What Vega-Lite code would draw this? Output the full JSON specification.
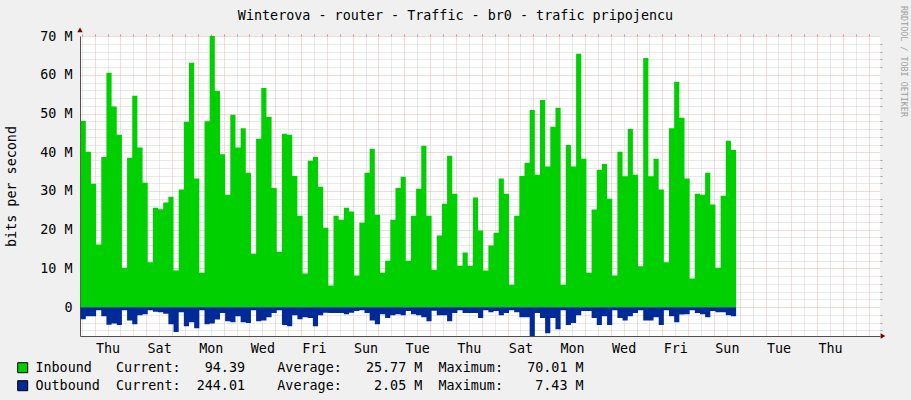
{
  "$schema": "https://vega.github.io/schema/vega-lite/v6.json",
  "width": 800,
  "height": 300,
  "autosize": {"type": "none"},
  "padding": {"left": 80, "top": 36, "right": 31, "bottom": 64},
  "background": "#F0F0F0",
  "config": {
    "view": {"fill": "#FFFFFF", "stroke": null},
    "font": "DejaVu Sans Mono",
    "axis": {"labelFont": "DejaVu Sans Mono", "labelFontSize": 13.4, "labelColor": "#000000", "titleFont": "DejaVu Sans Mono", "titleFontWeight": "normal", "titleColor": "#000000", "titleFontSize": 13.4},
    "legend": {"orient": "none", "legendX": -64, "legendY": 325, "direction": "vertical", "symbolType": "square", "symbolSize": 100, "symbolStrokeColor": "#000000", "symbolStrokeWidth": 1, "symbolOpacity": 1, "labelFont": "DejaVu Sans Mono", "labelFontSize": 13.4, "labelColor": "#000000", "labelLimit": 0, "labelOffset": 6, "padding": 0, "rowPadding": 3}
  },
  "title": {"text": "Winterova - router - Traffic - br0 - trafic pripojencu", "font": "DejaVu Sans Mono", "fontSize": 13.4, "fontWeight": "normal", "color": "#000000", "anchor": "middle", "dx": -24.5, "dy": 20.5},
  "data": {"values": [
    {"t": "2010-03-03T11:00:00Z", "inbound": 48.1, "outbound": -3.1},
    {"t": "2010-03-03T15:48:00Z", "inbound": 40.1, "outbound": -2.3},
    {"t": "2010-03-03T20:36:00Z", "inbound": 31.9, "outbound": -2.3},
    {"t": "2010-03-04T01:24:00Z", "inbound": 16.2, "outbound": -0.8},
    {"t": "2010-03-04T06:12:00Z", "inbound": 38.8, "outbound": -2.3},
    {"t": "2010-03-04T11:00:00Z", "inbound": 60.5, "outbound": -4.5},
    {"t": "2010-03-04T15:48:00Z", "inbound": 51.8, "outbound": -4.2},
    {"t": "2010-03-04T20:36:00Z", "inbound": 44.5, "outbound": -4.6},
    {"t": "2010-03-05T01:24:00Z", "inbound": 10.2, "outbound": -0.8},
    {"t": "2010-03-05T06:12:00Z", "inbound": 38.6, "outbound": -3.4},
    {"t": "2010-03-05T11:00:00Z", "inbound": 54.6, "outbound": -4.4},
    {"t": "2010-03-05T15:48:00Z", "inbound": 41.2, "outbound": -2.1},
    {"t": "2010-03-05T20:36:00Z", "inbound": 32.1, "outbound": -1.8},
    {"t": "2010-03-06T01:24:00Z", "inbound": 11.6, "outbound": -0.8},
    {"t": "2010-03-06T06:12:00Z", "inbound": 25.7, "outbound": -1.2},
    {"t": "2010-03-06T11:00:00Z", "inbound": 25.3, "outbound": -1.3},
    {"t": "2010-03-06T15:48:00Z", "inbound": 27.0, "outbound": -1.7},
    {"t": "2010-03-06T20:36:00Z", "inbound": 28.5, "outbound": -4.4},
    {"t": "2010-03-07T01:24:00Z", "inbound": 9.5, "outbound": -6.4},
    {"t": "2010-03-07T06:12:00Z", "inbound": 30.4, "outbound": -1.3},
    {"t": "2010-03-07T11:00:00Z", "inbound": 47.9, "outbound": -4.9},
    {"t": "2010-03-07T15:48:00Z", "inbound": 63.1, "outbound": -3.9},
    {"t": "2010-03-07T20:36:00Z", "inbound": 33.2, "outbound": -5.4},
    {"t": "2010-03-08T01:24:00Z", "inbound": 8.9, "outbound": -0.8},
    {"t": "2010-03-08T06:12:00Z", "inbound": 48.0, "outbound": -4.4},
    {"t": "2010-03-08T11:00:00Z", "inbound": 70.01, "outbound": -4.2},
    {"t": "2010-03-08T15:48:00Z", "inbound": 55.8, "outbound": -3.2},
    {"t": "2010-03-08T20:36:00Z", "inbound": 39.5, "outbound": -1.5},
    {"t": "2010-03-09T01:24:00Z", "inbound": 29.0, "outbound": -3.6},
    {"t": "2010-03-09T06:12:00Z", "inbound": 49.7, "outbound": -3.9},
    {"t": "2010-03-09T11:00:00Z", "inbound": 41.2, "outbound": -2.3},
    {"t": "2010-03-09T15:48:00Z", "inbound": 46.2, "outbound": -3.9},
    {"t": "2010-03-09T20:36:00Z", "inbound": 34.7, "outbound": -4.1},
    {"t": "2010-03-10T01:24:00Z", "inbound": 13.8, "outbound": -0.8},
    {"t": "2010-03-10T06:12:00Z", "inbound": 43.5, "outbound": -3.6},
    {"t": "2010-03-10T11:00:00Z", "inbound": 56.6, "outbound": -3.4},
    {"t": "2010-03-10T15:48:00Z", "inbound": 49.1, "outbound": -2.6},
    {"t": "2010-03-10T20:36:00Z", "inbound": 30.8, "outbound": -1.5},
    {"t": "2010-03-11T01:24:00Z", "inbound": 14.3, "outbound": -0.8},
    {"t": "2010-03-11T06:12:00Z", "inbound": 44.8, "outbound": -4.6},
    {"t": "2010-03-11T11:00:00Z", "inbound": 44.5, "outbound": -4.9},
    {"t": "2010-03-11T15:48:00Z", "inbound": 33.9, "outbound": -2.1},
    {"t": "2010-03-11T20:36:00Z", "inbound": 23.6, "outbound": -3.1},
    {"t": "2010-03-12T01:24:00Z", "inbound": 8.7, "outbound": -2.6},
    {"t": "2010-03-12T06:12:00Z", "inbound": 37.8, "outbound": -2.8},
    {"t": "2010-03-12T11:00:00Z", "inbound": 38.8, "outbound": -4.9},
    {"t": "2010-03-12T15:48:00Z", "inbound": 31.1, "outbound": -2.1},
    {"t": "2010-03-12T20:36:00Z", "inbound": 20.5, "outbound": -1.4},
    {"t": "2010-03-13T01:24:00Z", "inbound": 5.6, "outbound": -1.5},
    {"t": "2010-03-13T06:12:00Z", "inbound": 23.6, "outbound": -1.5},
    {"t": "2010-03-13T11:00:00Z", "inbound": 22.6, "outbound": -1.5},
    {"t": "2010-03-13T15:48:00Z", "inbound": 25.7, "outbound": -1.8},
    {"t": "2010-03-13T20:36:00Z", "inbound": 24.7, "outbound": -1.4},
    {"t": "2010-03-14T01:24:00Z", "inbound": 8.2, "outbound": -1.0},
    {"t": "2010-03-14T06:12:00Z", "inbound": 21.8, "outbound": -0.8},
    {"t": "2010-03-14T11:00:00Z", "inbound": 34.7, "outbound": -1.5},
    {"t": "2010-03-14T15:48:00Z", "inbound": 40.9, "outbound": -3.4},
    {"t": "2010-03-14T20:36:00Z", "inbound": 23.9, "outbound": -4.4},
    {"t": "2010-03-15T01:24:00Z", "inbound": 8.9, "outbound": -1.8},
    {"t": "2010-03-15T06:12:00Z", "inbound": 12.0, "outbound": -2.8},
    {"t": "2010-03-15T11:00:00Z", "inbound": 22.6, "outbound": -2.1},
    {"t": "2010-03-15T15:48:00Z", "inbound": 30.8, "outbound": -1.8},
    {"t": "2010-03-15T20:36:00Z", "inbound": 33.7, "outbound": -2.1},
    {"t": "2010-03-16T01:24:00Z", "inbound": 12.0, "outbound": -1.0},
    {"t": "2010-03-16T06:12:00Z", "inbound": 23.6, "outbound": -1.8},
    {"t": "2010-03-16T11:00:00Z", "inbound": 30.6, "outbound": -2.1},
    {"t": "2010-03-16T15:48:00Z", "inbound": 41.7, "outbound": -2.6},
    {"t": "2010-03-16T20:36:00Z", "inbound": 23.6, "outbound": -3.6},
    {"t": "2010-03-17T01:24:00Z", "inbound": 9.7, "outbound": -0.9},
    {"t": "2010-03-17T06:12:00Z", "inbound": 18.5, "outbound": -2.1},
    {"t": "2010-03-17T11:00:00Z", "inbound": 26.7, "outbound": -2.1},
    {"t": "2010-03-17T15:48:00Z", "inbound": 39.1, "outbound": -3.6},
    {"t": "2010-03-17T20:36:00Z", "inbound": 29.3, "outbound": -1.5},
    {"t": "2010-03-18T01:24:00Z", "inbound": 10.7, "outbound": -0.8},
    {"t": "2010-03-18T06:12:00Z", "inbound": 14.1, "outbound": -1.5},
    {"t": "2010-03-18T11:00:00Z", "inbound": 10.7, "outbound": -1.5},
    {"t": "2010-03-18T15:48:00Z", "inbound": 28.3, "outbound": -1.5},
    {"t": "2010-03-18T20:36:00Z", "inbound": 19.8, "outbound": -2.8},
    {"t": "2010-03-19T01:24:00Z", "inbound": 9.5, "outbound": -0.8},
    {"t": "2010-03-19T06:12:00Z", "inbound": 15.9, "outbound": -1.3},
    {"t": "2010-03-19T11:00:00Z", "inbound": 19.2, "outbound": -1.0},
    {"t": "2010-03-19T15:48:00Z", "inbound": 33.2, "outbound": -2.1},
    {"t": "2010-03-19T20:36:00Z", "inbound": 29.3, "outbound": -1.5},
    {"t": "2010-03-20T01:24:00Z", "inbound": 5.8, "outbound": -0.8},
    {"t": "2010-03-20T06:12:00Z", "inbound": 23.6, "outbound": -1.3},
    {"t": "2010-03-20T11:00:00Z", "inbound": 33.9, "outbound": -2.6},
    {"t": "2010-03-20T15:48:00Z", "inbound": 37.3, "outbound": -2.6},
    {"t": "2010-03-20T20:36:00Z", "inbound": 50.9, "outbound": -7.43},
    {"t": "2010-03-21T01:24:00Z", "inbound": 34.2, "outbound": -1.5},
    {"t": "2010-03-21T06:12:00Z", "inbound": 53.5, "outbound": -2.8},
    {"t": "2010-03-21T11:00:00Z", "inbound": 36.3, "outbound": -6.7},
    {"t": "2010-03-21T15:48:00Z", "inbound": 46.6, "outbound": -2.8},
    {"t": "2010-03-21T20:36:00Z", "inbound": 51.5, "outbound": -5.7},
    {"t": "2010-03-22T01:24:00Z", "inbound": 5.8, "outbound": -0.8},
    {"t": "2010-03-22T06:12:00Z", "inbound": 41.9, "outbound": -4.6},
    {"t": "2010-03-22T11:00:00Z", "inbound": 36.3, "outbound": -4.1},
    {"t": "2010-03-22T15:48:00Z", "inbound": 65.4, "outbound": -2.1},
    {"t": "2010-03-22T20:36:00Z", "inbound": 38.3, "outbound": -1.0},
    {"t": "2010-03-23T01:24:00Z", "inbound": 8.9, "outbound": -1.0},
    {"t": "2010-03-23T06:12:00Z", "inbound": 25.2, "outbound": -2.8},
    {"t": "2010-03-23T11:00:00Z", "inbound": 35.5, "outbound": -4.6},
    {"t": "2010-03-23T15:48:00Z", "inbound": 37.0, "outbound": -2.3},
    {"t": "2010-03-23T20:36:00Z", "inbound": 28.0, "outbound": -4.6},
    {"t": "2010-03-24T01:24:00Z", "inbound": 8.2, "outbound": -0.8},
    {"t": "2010-03-24T06:12:00Z", "inbound": 40.1, "outbound": -2.8},
    {"t": "2010-03-24T11:00:00Z", "inbound": 33.8, "outbound": -3.4},
    {"t": "2010-03-24T15:48:00Z", "inbound": 46.0, "outbound": -2.3},
    {"t": "2010-03-24T20:36:00Z", "inbound": 34.2, "outbound": -1.5},
    {"t": "2010-03-25T01:24:00Z", "inbound": 10.6, "outbound": -0.8},
    {"t": "2010-03-25T06:12:00Z", "inbound": 64.3, "outbound": -3.4},
    {"t": "2010-03-25T11:00:00Z", "inbound": 33.8, "outbound": -3.4},
    {"t": "2010-03-25T15:48:00Z", "inbound": 38.3, "outbound": -2.6},
    {"t": "2010-03-25T20:36:00Z", "inbound": 30.4, "outbound": -4.6},
    {"t": "2010-03-26T01:24:00Z", "inbound": 11.6, "outbound": -0.8},
    {"t": "2010-03-26T06:12:00Z", "inbound": 46.2, "outbound": -2.3},
    {"t": "2010-03-26T11:00:00Z", "inbound": 58.2, "outbound": -3.9},
    {"t": "2010-03-26T15:48:00Z", "inbound": 48.9, "outbound": -1.9},
    {"t": "2010-03-26T20:36:00Z", "inbound": 33.2, "outbound": -1.8},
    {"t": "2010-03-27T01:24:00Z", "inbound": 7.4, "outbound": -0.8},
    {"t": "2010-03-27T06:12:00Z", "inbound": 29.3, "outbound": -1.5},
    {"t": "2010-03-27T11:00:00Z", "inbound": 29.0, "outbound": -1.8},
    {"t": "2010-03-27T15:48:00Z", "inbound": 34.7, "outbound": -2.6},
    {"t": "2010-03-27T20:36:00Z", "inbound": 26.5, "outbound": -1.0},
    {"t": "2010-03-28T01:24:00Z", "inbound": 10.2, "outbound": -1.3},
    {"t": "2010-03-28T06:12:00Z", "inbound": 28.8, "outbound": -1.3},
    {"t": "2010-03-28T11:00:00Z", "inbound": 43.0, "outbound": -2.1},
    {"t": "2010-03-28T15:48:00Z", "inbound": 40.6, "outbound": -2.3},
    {"t": "2010-03-28T20:36:00Z", "inbound": 40.6, "outbound": -2.3}
  ]},
  "layer": [
    {
      "mark": {"type": "area", "interpolate": "step-after", "opacity": 1},
      "encoding": {
        "x": {"field": "t", "type": "temporal",
          "scale": {"type": "utc", "domain": [1267611900000, 1270290300000], "nice": false},
          "axis": {"title": null, "values": [1267704000000, 1267876800000, 1268049600000, 1268222400000, 1268395200000, 1268568000000, 1268740800000, 1268913600000, 1269086400000, 1269259200000, 1269432000000, 1269604800000, 1269777600000, 1269950400000, 1270123200000],
            "labelExpr": "utcFormat(datum.value, '%a')", "grid": false, "ticks": false, "tickSize": 0, "labelPadding": 5, "domain": true, "domainColor": "#505050", "labelFlush": false, "labelOverlap": false, "labelAngle": 0}},
        "y": {"field": "inbound", "type": "quantitative",
          "scale": {"domain": [-7.43, 70.01], "nice": false, "zero": false},
          "axis": {"values": [0, 10, 20, 30, 40, 50, 60, 70], "labelExpr": "datum.value == 0 ? '0\u00a0\u00a0' : datum.value + '\u00a0M'",
            "grid": true, "gridColor": "#EBB4B4", "gridDash": [1, 1], "ticks": false, "tickSize": 0, "labelPadding": 8, "labelBaseline": "middle",
            "domain": true, "domainColor": "#505050", "title": "bits per second", "titleX": -69, "titleY": 150, "titleAngle": -90, "titleAlign": "center", "titleBaseline": "middle"}},
        "y2": {"datum": 0},
        "color": {"datum": "Inbound", "type": "nominal",
          "scale": {"domain": ["Inbound", "Outbound"], "range": ["#00CF00", "#002A97"]},
          "legend": {"title": null, "labelExpr": "datum.label == 'Inbound' ? 'Inbound\u00a0\u00a0\u00a0Current:\u00a0\u00a0\u00a094.39\u00a0\u00a0\u00a0\u00a0Average:\u00a0\u00a0\u00a025.77\u00a0M\u00a0\u00a0Maximum:\u00a0\u00a0\u00a070.01\u00a0M' : 'Outbound\u00a0\u00a0Current:\u00a0\u00a0244.01\u00a0\u00a0\u00a0\u00a0Average:\u00a0\u00a0\u00a0\u00a02.05\u00a0M\u00a0\u00a0Maximum:\u00a0\u00a0\u00a0\u00a07.43\u00a0M'"}}
      }
    },
    {
      "mark": {"type": "area", "interpolate": "step-after", "opacity": 1},
      "encoding": {
        "x": {"field": "t", "type": "temporal",
          "scale": {"type": "utc", "domain": [1267611900000, 1270290300000], "nice": false},
          "axis": {"title": null, "values": [1267617600000, 1267704000000, 1267790400000, 1267876800000, 1267963200000, 1268049600000, 1268136000000, 1268222400000, 1268308800000, 1268395200000, 1268481600000, 1268568000000, 1268654400000, 1268740800000, 1268827200000, 1268913600000, 1269000000000, 1269086400000, 1269172800000, 1269259200000, 1269345600000, 1269432000000, 1269518400000, 1269604800000, 1269691200000, 1269777600000, 1269864000000, 1269950400000, 1270036800000, 1270123200000, 1270209600000],
            "labels": false, "domain": false, "grid": true, "gridColor": "#D2D2D2", "gridDash": [1, 1], "ticks": true, "tickColor": "#A0A0A0", "tickSize": 2}},
        "y": {"field": "outbound", "type": "quantitative",
          "scale": {"domain": [-7.43, 70.01], "nice": false, "zero": false},
          "axis": {"title": null, "values": [-6, -4, -2, 2, 4, 6, 8, 12, 14, 16, 18, 22, 24, 26, 28, 32, 34, 36, 38, 42, 44, 46, 48, 52, 54, 56, 58, 62, 64, 66, 68],
            "labels": false, "domain": false, "grid": true, "gridColor": "#D2D2D2", "gridDash": [1, 1], "ticks": true, "tickColor": "#A0A0A0", "tickSize": 2}},
        "y2": {"datum": 0},
        "color": {"datum": "Outbound", "type": "nominal"}
      }
    },
    {
      "data": {"values": [{}]},
      "mark": {"type": "point", "shape": "triangle-up", "filled": true, "color": "#7F0000", "size": 30, "opacity": 1},
      "encoding": {
        "x": {"datum": 1267611900000, "type": "temporal", "scale": {"type": "utc", "domain": [1267611900000, 1270290300000], "nice": false}, "axis": null},
        "y": {"datum": 71.6, "type": "quantitative", "scale": {"domain": [-7.43, 70.01], "nice": false, "zero": false},
          "axis": {"orient": "right", "labels": false, "ticks": false, "domain": false, "grid": false, "title": "RRDTOOL / TOBI OETIKER",
            "titleFont": "DejaVu Sans Mono", "titleFontSize": 8.4, "titleColor": "#A0A0A0", "titleAngle": 90, "titleX": 23, "titleY": 25, "titleAlign": "center", "titleBaseline": "middle"}}
      }
    },
    {
      "data": {"values": [{}]},
      "mark": {"type": "point", "shape": "triangle-right", "filled": true, "color": "#7F0000", "size": 30, "opacity": 1},
      "encoding": {
        "x": {"datum": 1270300380000, "type": "temporal", "scale": {"type": "utc", "domain": [1267611900000, 1270290300000], "nice": false},
          "axis": {"title": null, "values": [1267660800000, 1267747200000, 1267833600000, 1267920000000, 1268006400000, 1268092800000, 1268179200000, 1268265600000, 1268352000000, 1268438400000, 1268524800000, 1268611200000, 1268697600000, 1268784000000, 1268870400000, 1268956800000, 1269043200000, 1269129600000, 1269216000000, 1269302400000, 1269388800000, 1269475200000, 1269561600000, 1269648000000, 1269734400000, 1269820800000, 1269907200000, 1269993600000, 1270080000000, 1270166400000, 1270252800000],
            "labels": false, "domain": false, "grid": true, "gridColor": "#EBB4B4", "gridDash": [1, 1], "ticks": true, "tickColor": "#E08080", "tickSize": 2}},
        "y": {"datum": -7.43, "type": "quantitative", "scale": {"domain": [-7.43, 70.01], "nice": false, "zero": false}, "axis": null}
      }
    }
  ],
  "resolve": {"axis": {"x": "independent", "y": "independent"}}
}
